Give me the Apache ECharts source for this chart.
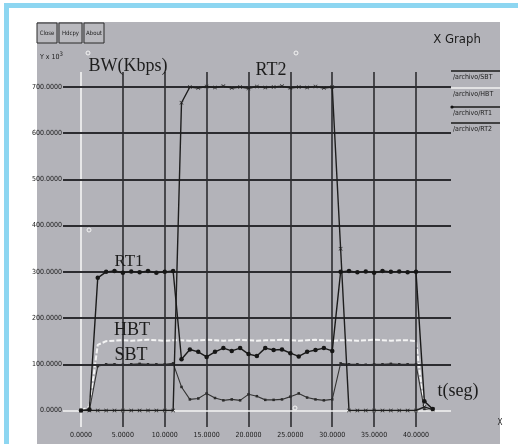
<!DOCTYPE html>
<html>
<head>
<meta charset="utf-8">
<script src="https://cdn.jsdelivr.net/npm/echarts@6/dist/echarts.min.js"></script>
<style>
html,body{margin:0;padding:0;background:#fff;}
#c{width:518px;height:444px;}
</style>
</head>
<body>
<div id="c"></div>
<script>
// ---- data ----
const time = [0,1,2,3,4,5,6,7,8,9,10,11,12,13,14,15,16,17,18,19,20,21,22,23,24,25,26,27,28,29,30,31,32,33,34,35,36,37,38,39,40,41,42];
const sbt = [0,0,96,100,100,99,100,101,100,100,100,102,51,24,26,37,27,22,24,22,35,31,23,23,24,30,37,28,24,22,24,102,100,100,99,100,100,101,100,100,100,2,0];
const hbt = [0,8,142,150,151,152,151,152,153,152,151,152,152,151,152,153,152,151,152,153,152,151,152,152,153,152,151,152,153,152,151,152,152,151,152,153,152,151,152,152,150,2,0];
const rt1 = [0,2,287,300,302,298,301,299,302,298,300,302,111,132,127,116,127,135,129,135,122,118,135,131,132,124,117,127,131,135,129,300,302,299,301,298,302,300,301,299,300,20,3];
const rt2 = [0,0,0,0,0,0,0,0,0,0,0,0,666,700,698,701,699,702,698,700,697,701,699,700,702,698,700,699,701,698,700,350,0,0,0,0,0,0,0,0,0,8,2];
const xTicks = [0,5,10,15,20,25,30,35,40];
const yTicks = [0,100,200,300,400,500,600,700];
const seriesNames = ['SBT','HBT','RT1','RT2'];

const pair = (arr) => time.map((t,i) => [t, arr[i]]);
const NARROW = '"Liberation Sans Narrow","DejaVu Sans Condensed","Liberation Sans",sans-serif';
const SERIF = '"Liberation Serif","DejaVu Serif",serif';
const gridDark = '#2c2c30';

const chart = echarts.init(document.getElementById('c'), null, {renderer:'canvas'});

const gridLines = [];
xTicks.forEach(v => gridLines.push({xAxis: v, lineStyle: v === 0 ? {color:'#f4f4f4', width:1.6, type:'solid'} : {color: gridDark, width:1.6, type:'solid'}}));
yTicks.forEach(v => gridLines.push({yAxis: v, lineStyle: v === 0 ? {color:'#f4f4f4', width:1.6, type:'solid'} : {color: gridDark, width:1.9, type:'solid'}}));

const crossPath = 'path://M0,1L1,0L5,4L9,0L10,1L6,5L10,9L9,10L5,6L1,10L0,9L4,5Z';

function txt(text, x, y, font, extra) {
  return Object.assign({type:'text', z:50, style: Object.assign({text, x, y, font, fill:'#1c1c1c', align:'center', verticalAlign:'middle'}, extra||{})});
}

const legendY = [71, 88, 107, 123];
const legendColors = ['#1a1a1a', '#f2f2f2', '#1a1a1a', '#1a1a1a'];
const legendGraphics = [];
seriesNames.forEach((n, i) => {
  legendGraphics.push({type:'line', z:40, shape:{x1:451, y1:legendY[i], x2:500, y2:legendY[i]}, style:{stroke:legendColors[i], lineWidth:1.3}});
  legendGraphics.push(txt('/archivo/' + n, 453, legendY[i] + 6, '7px ' + NARROW, {align:'left'}));
});
legendGraphics.push({type:'circle', z:41, shape:{cx:452, cy:107, r:1.6}, style:{fill:'#111'}});

const option = {
  animation: false,
  backgroundColor: '#ffffff',
  grid: {left:63, top:72, width:388, height:355, outerBoundsMode:'none'},
  xAxis: {
    type:'value', min:-2.149, max:44.18,
    axisLine:{show:false}, axisTick:{show:false}, splitLine:{show:false},
    axisLabel:{customValues: xTicks, formatter: v => Number(v).toFixed(4), margin:5, fontSize:7, fontFamily:NARROW, color:'#1a1a1a'}
  },
  yAxis: {
    type:'value', min:-35.7, max:732.5,
    axisLine:{show:false}, axisTick:{show:false}, splitLine:{show:false},
    axisLabel:{customValues: yTicks, formatter: v => Number(v).toFixed(4), margin:1, fontSize:7, fontFamily:NARROW, color:'#1a1a1a'}
  },
  graphic: [
    {type:'rect', z:-10, shape:{x:0,y:0,width:518,height:444}, style:{fill:'#ffffff'}},
    {type:'rect', z:-9, shape:{x:4,y:3,width:514,height:5}, style:{fill:'#8dd6f1'}},
    {type:'rect', z:-9, shape:{x:4,y:3,width:5,height:441}, style:{fill:'#8dd6f1'}},
    {type:'rect', z:-9, shape:{x:37,y:22,width:463,height:422}, style:{fill:'#b3b3b9'}},
    {type:'rect', z:30, shape:{x:37,y:23,width:20,height:20}, style:{fill:'#b9b9be', stroke:'#2a2a2a', lineWidth:1}},
    {type:'rect', z:30, shape:{x:59,y:23,width:23,height:20}, style:{fill:'#b9b9be', stroke:'#2a2a2a', lineWidth:1}},
    {type:'rect', z:30, shape:{x:84,y:23,width:20,height:20}, style:{fill:'#b9b9be', stroke:'#2a2a2a', lineWidth:1}},
    txt('Close', 47, 33, '6px ' + NARROW),
    txt('Hdcpy', 70.5, 33, '6px ' + NARROW),
    txt('About', 94, 33, '6px ' + NARROW),
    txt('X Graph', 457, 40, '13px ' + NARROW),
    {type:'text', z:50, style:{text:'{a|Y x 10}{b|3}', x:40, y:57, align:'left', verticalAlign:'middle',
      rich:{a:{font:'7px ' + NARROW, fill:'#1c1c1c'}, b:{font:'6px ' + NARROW, fill:'#1c1c1c', verticalAlign:'top', padding:[0,0,6,0]}}}},
    txt('BW(Kbps)', 128, 66, '18px ' + SERIF),
    txt('RT2', 271, 70, '18px ' + SERIF),
    txt('RT1', 129, 262, '17px ' + SERIF),
    txt('HBT', 132, 330, '18px ' + SERIF),
    txt('SBT', 131, 355, '18px ' + SERIF),
    txt('t(seg)', 458, 391, '18px ' + SERIF),
    {type:'circle', z:45, shape:{cx:88, cy:53, r:2}, style:{fill:'none', stroke:'#f4f4f4', lineWidth:1}},
    {type:'circle', z:45, shape:{cx:296, cy:53, r:2}, style:{fill:'none', stroke:'#f4f4f4', lineWidth:1}},
    {type:'circle', z:45, shape:{cx:89, cy:230, r:2}, style:{fill:'none', stroke:'#f4f4f4', lineWidth:1}},
    {type:'circle', z:45, shape:{cx:295, cy:408, r:2}, style:{fill:'none', stroke:'#f4f4f4', lineWidth:1}},
    txt('X', 500, 423, '8px ' + NARROW)
  ].concat(legendGraphics),
  series: [
    {type:'line', name:'grid', z:1, data:[], silent:true,
      markLine:{silent:true, symbol:['none','none'], label:{show:false}, emphasis:{disabled:true}, data: gridLines}},
    {type:'line', name:'HBT', z:3, data: pair(hbt), symbol:'none',
      lineStyle:{color:'#f4f4f4', width:2, type:[5,2]}},
    {type:'line', name:'SBT', z:4, data: pair(sbt), symbol:'rect', symbolSize:2.5,
      itemStyle:{color:'#2a2a2a'}, lineStyle:{color:'#333', width:1.1}},
    {type:'line', name:'RT2', z:5, data: pair(rt2), symbol: crossPath, symbolSize:4,
      itemStyle:{color:'#222'}, lineStyle:{color:'#1e1e1e', width:1.4}},
    {type:'line', name:'RT1', z:6, data: pair(rt1), symbol:'circle', symbolSize:4.5,
      itemStyle:{color:'#161616'}, lineStyle:{color:'#1a1a1a', width:1.4}}
  ]
};
chart.setOption(option);
</script>
</body>
</html>
